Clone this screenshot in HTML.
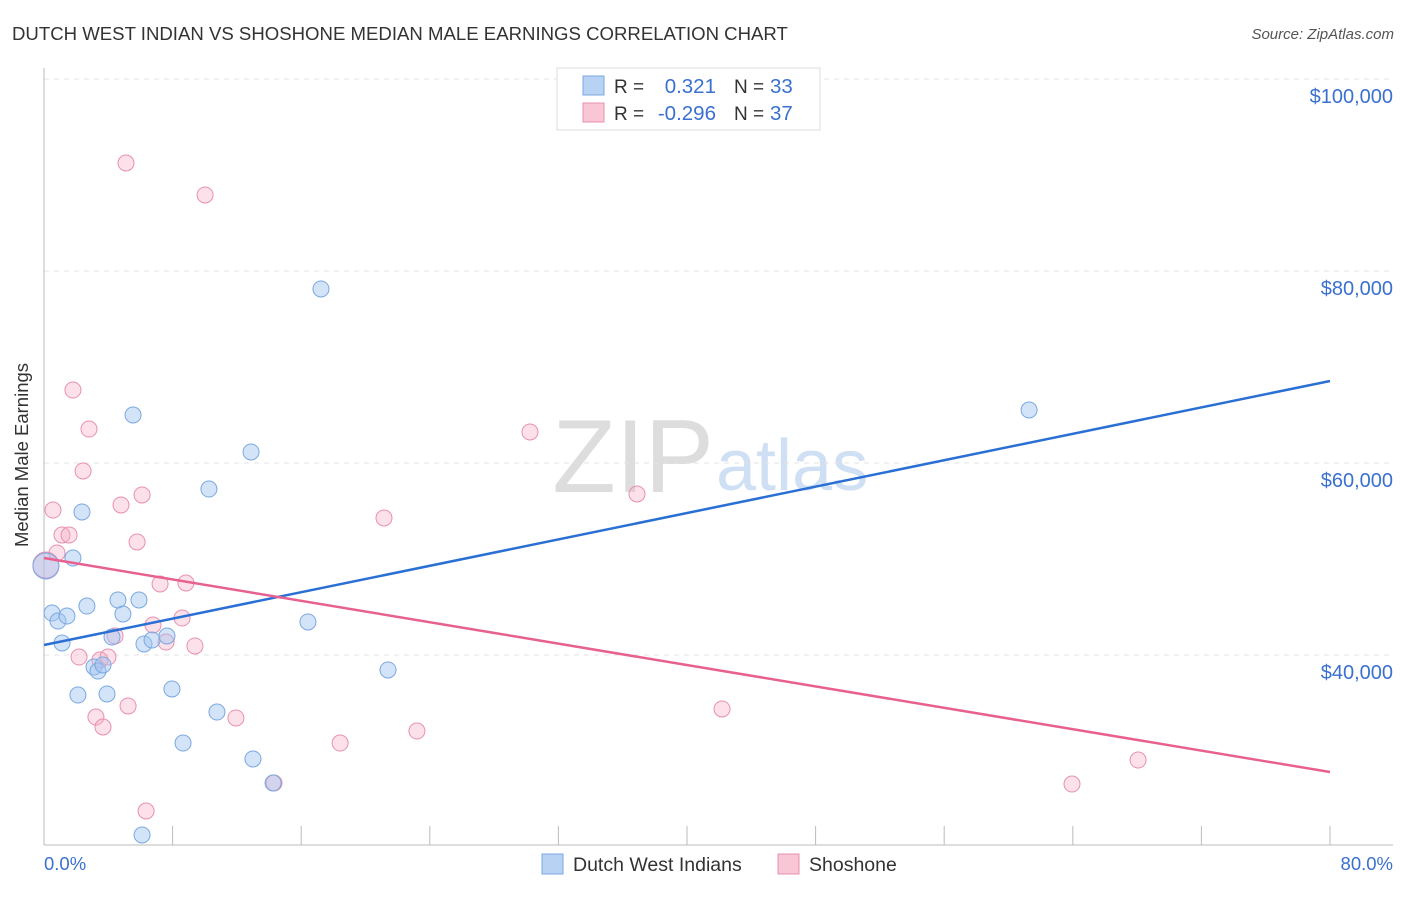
<!DOCTYPE html>
<html><head><meta charset="utf-8"><style>
body{margin:0;background:#fff;font-family:"Liberation Sans",sans-serif;}
svg text{font-family:"Liberation Sans",sans-serif;}
</style></head><body>
<svg id="chart" width="1406" height="892">
<text x="12" y="40" font-size="18.6" fill="#333">DUTCH WEST INDIAN VS SHOSHONE MEDIAN MALE EARNINGS CORRELATION CHART</text>
<text x="1394" y="39" font-size="15" fill="#555" text-anchor="end" font-style="italic">Source: ZipAtlas.com</text>
<text x="28" y="455" font-size="18.5" fill="#333" text-anchor="middle" transform="rotate(-90 28 455)">Median Male Earnings</text>
<text x="714" y="492" font-size="104" fill="#ddd" text-anchor="end" font-family="Liberation Serif">ZIP</text>
<text x="716" y="490" font-size="72" fill="#cfe0f4">atlas</text>
<g id="grid"></g><g id="marks"></g><g id="lines"></g>
<text x="44" y="870" font-size="18.5" fill="#3a70d0">0.0%</text>
<text x="1393" y="870" font-size="18.5" fill="#3a70d0" text-anchor="end">80.0%</text>
<g>
<rect x="557" y="68" width="263" height="62" fill="#fff" stroke="#ddd"/>
<rect x="583" y="76" width="21" height="19" fill="#b8d2f4" stroke="#7aa8e0"/>
<rect x="583" y="103" width="21" height="19" fill="#f9c6d6" stroke="#e890b0"/>
<text x="614" y="93" font-size="19" fill="#333">R =</text><text x="716" y="93" font-size="20.5" fill="#3a70d0" text-anchor="end">0.321</text>
<text x="734" y="93" font-size="19" fill="#333">N =</text><text x="770" y="93" font-size="20.5" fill="#3a70d0">33</text>
<text x="614" y="120" font-size="19" fill="#333">R =</text><text x="716" y="120" font-size="20.5" fill="#3a70d0" text-anchor="end">-0.296</text>
<text x="734" y="120" font-size="19" fill="#333">N =</text><text x="770" y="120" font-size="20.5" fill="#3a70d0">37</text>
</g>
<g>
<rect x="542" y="854" width="21" height="20" fill="#b8d2f4" stroke="#7aa8e0"/>
<text x="573" y="871" font-size="19.5" fill="#333">Dutch West Indians</text>
<rect x="778" y="854" width="21" height="20" fill="#f9c6d6" stroke="#e890b0"/>
<text x="809" y="871" font-size="19.5" fill="#333">Shoshone</text>
</g>
</svg>
<script>
const yTicks=[100000,80000,60000,40000];
const yTickLabels=["$100,000","$80,000","$60,000","$40,000"];
const blueX=[0.12,0.5,0.87,1.12,1.43,1.8,2.11,2.36,2.67,3.11,3.36,3.67,3.92,4.23,4.6,4.91,5.54,5.91,6.22,6.72,7.65,7.96,8.65,10.26,10.76,12.88,13.0,14.25,16.42,17.23,21.4,61.28,6.1];
const blueY=[49270,44370,43540,41250,44060,50100,35830,54900,45100,38750,38330,38960,35940,41870,45730,44270,65000,45730,41150,41560,41980,36460,30830,57290,34060,61150,29170,26670,43440,78130,38440,65520,21250];
const pinkX=[0.12,0.56,0.81,1.12,1.56,1.8,2.18,2.43,2.8,3.23,3.48,3.67,3.98,4.42,4.79,5.1,5.23,5.79,6.1,6.35,6.78,7.22,7.59,8.59,8.83,9.39,10.02,11.94,14.31,18.42,21.15,23.2,30.23,36.89,42.18,63.95,68.06];
const pinkY=[49370,55100,50630,52500,52500,67600,39790,59170,63540,33540,39480,32500,39790,41980,55630,91250,34690,51770,56670,23750,43130,47400,41350,43850,47500,40940,87920,33440,26670,30830,54270,32080,63230,56770,34380,26560,29060];
const blueTrend=[41040,68540];
const pinkTrend=[50100,27810];
const trendX=[0,80];
const NS='http://www.w3.org/2000/svg';
const xs=v=>44+v*1286/80;
const ys=v=>79+(100000-v)*192/20000;
function mk(t,a,p){const e=document.createElementNS(NS,t);for(const k in a)e.setAttribute(k,a[k]);document.getElementById(p).appendChild(e);return e;}
yTicks.forEach((t,i)=>{
 const l=mk('line',{x1:44,x2:1393,y1:ys(t),y2:ys(t),stroke:'#e3e3e3','stroke-dasharray':'5,5'},'grid');
 
 
 const tx=mk('text',{x:1393,y:ys(t)+24,'font-size':20,fill:'#3a70d0','text-anchor':'end'},'grid');
 tx.textContent=yTickLabels[i];
 
 
});
const ax=mk('line',{x1:44,x2:44,y1:68,y2:845,stroke:'#bbb'},'grid');


const bx=mk('line',{x1:44,x2:1393,y1:845,y2:845,stroke:'#bbb'},'grid');


for(let i=0;i<=10;i++){const t=mk('line',{x1:xs(i*8),x2:xs(i*8),y1:826,y2:845,stroke:'#bbb'},'grid');
 
 }
function pts(X,Y,fill,stroke,name){X.forEach((x,i)=>{
 const c=mk('circle',{cx:xs(x),cy:ys(Y[i]),r:(i===0?13:8),fill:fill,stroke:stroke,'stroke-width':1},'marks');
 
 
});}
pts(pinkX,pinkY,'rgba(245,170,195,0.35)','#e890b0','shoshone-point');
pts(blueX,blueY,'rgba(160,196,240,0.45)','#7aa8e0','dutch-west-indian-point');
const bl=mk('line',{x1:xs(trendX[0]),x2:xs(trendX[1]),y1:ys(blueTrend[0]),y2:ys(blueTrend[1]),stroke:'#2a6fd4','stroke-width':2.5},'lines');


const pl=mk('line',{x1:xs(trendX[0]),x2:xs(trendX[1]),y1:ys(pinkTrend[0]),y2:ys(pinkTrend[1]),stroke:'#e86090','stroke-width':2.5},'lines');


</script>
</body></html>
